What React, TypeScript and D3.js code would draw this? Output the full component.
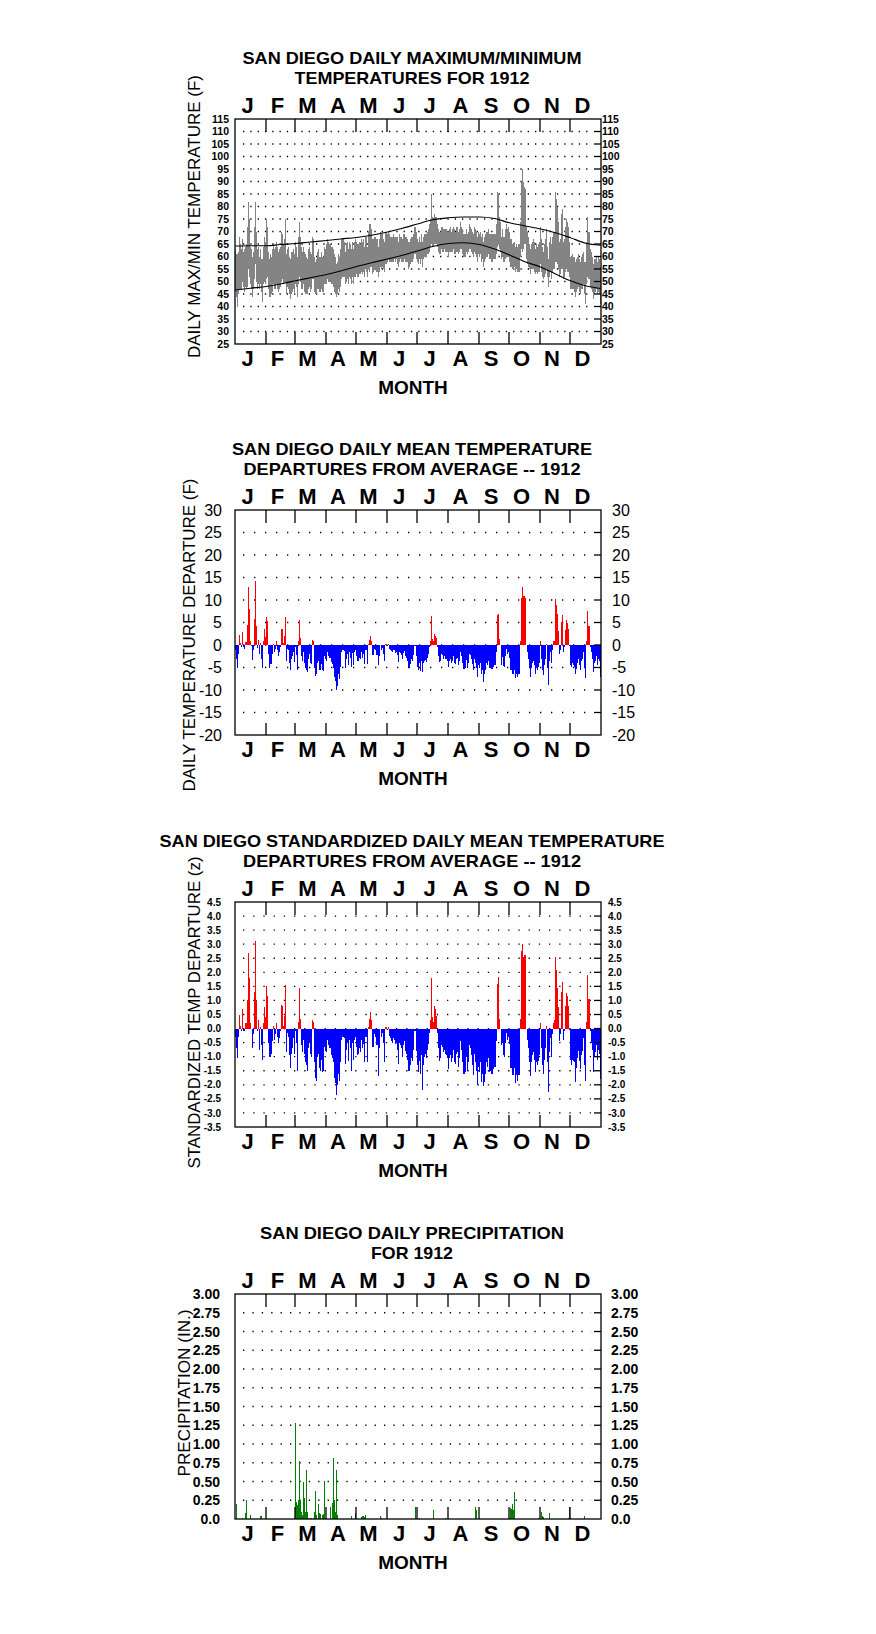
import React from "react";
import * as d3 from "d3";

const FONT = "'Liberation Sans', Arial, Helvetica, sans-serif";

const MONTH_LETTERS = ["J", "F", "M", "A", "M", "J", "J", "A", "S", "O", "N", "D"];
const MONTH_DAYS = [31, 29, 31, 30, 31, 30, 31, 31, 30, 31, 30, 31];

// ---- Chart 1: daily max / min (F) ----
const TMAX_JAN = [63,61,61,62,68,65,63,67,62,63,64,65,72,82,75,64,63,60,62,72,82,70,63,64,60,63,59,59,64,68,66];
const TMIN_JAN = [46,44,40,45,47,47,47,50,48,46,48,47,48,55,52,49,47,44,47,51,57,50,47,49,47,49,46,42,49,50,49];
const TMAX_FEB = [75,72,62,59,61,60,63,65,63,64,66,64,62,63,64,70,69,65,67,75,61,63,64,60,59,62,62,63,61];
const TMIN_FEB = [51,52,47,44,44,45,46,49,47,47,49,47,46,47,48,50,51,49,50,50,45,48,47,45,43,45,46,47,45];
const TMAX_MAR = [66,64,60,68,74,68,64,62,64,62,61,60,59,63,64,62,61,68,67,60,58,59,62,63,60,60,62,60,60,64,63];
const TMIN_MAR = [49,48,44,49,52,50,47,47,49,46,45,45,45,47,48,46,47,51,51,46,45,45,47,47,46,46,47,46,46,49,49];
const TMAX_APR = [65,67,66,65,65,64,64,63,61,60,57,58,61,60,63,67,67,67,66,62,65,66,63,66,65,63,66,63,66,67];
const TMIN_APR = [49,51,50,50,50,49,49,48,46,45,44,45,47,46,48,51,52,52,52,49,50,51,49,52,51,49,52,49,52,52];
const TMAX_MAY = [66,65,65,66,65,67,66,67,64,68,68,64,70,73,73,71,67,67,68,68,67,67,64,67,70,69,69,67,66,70,70];
const TMIN_MAY = [53,52,52,53,53,54,53,54,52,55,54,52,55,54,56,56,53,54,55,55,54,54,52,54,56,55,56,55,54,57,57];
const TMAX_JUN = [69,70,69,68,68,68,69,68,68,68,68,66,69,68,68,67,69,69,68,68,67,66,66,67,68,68,69,72,72,70];
const TMIN_JUN = [58,59,58,58,58,58,58,59,58,59,57,56,58,59,58,58,58,59,58,58,58,55,56,57,58,58,59,61,61,59];
const TMAX_JUL = [67,66,68,66,69,66,68,69,69,69,70,71,73,75,85,76,75,77,76,76,73,71,70,70,72,72,71,71,71,71,70];
const TMIN_JUL = [58,57,59,57,59,56,59,60,60,60,61,61,62,64,65,64,64,65,65,65,64,62,61,61,63,62,62,63,62,62,62];
const TMAX_AUG = [70,71,72,70,71,72,71,70,72,72,70,71,74,72,71,69,69,69,71,69,70,73,72,71,70,69,72,71,70,68,70];
const TMIN_AUG = [60,62,62,62,62,63,61,61,62,62,61,62,63,63,61,60,60,60,62,61,62,63,63,62,61,60,62,61,60,58,61];
const TMAX_SEP = [69,70,68,69,66,68,69,70,70,71,69,69,69,69,69,69,69,73,86,85,76,74,68,71,68,68,71,73,71,72];
const TMIN_SEP = [60,61,58,59,56,58,59,60,60,61,59,59,58,58,59,59,59,61,64,65,63,62,59,60,58,58,59,60,60,60];
const TMAX_OCT = [70,67,67,65,65,66,64,65,64,65,65,74,90,95,90,88,87,72,70,68,65,63,65,66,67,66,63,65,64,65,66];
const TMIN_OCT = [58,56,56,55,55,56,54,55,54,54,54,60,63,62,63,65,65,59,57,56,55,53,55,55,55,54,53,54,53,54,54];
const TMAX_NOV = [72,67,64,62,65,67,71,64,59,66,68,65,68,70,70,86,83,80,74,66,67,77,79,66,67,72,75,74,72,66];
const TMIN_NOV = [57,54,52,51,52,53,55,52,48,52,54,51,54,55,55,58,58,57,55,52,53,55,55,51,52,54,55,54,54,52];
const TMAX_DEC = [60,60,61,60,60,58,59,60,61,59,58,60,61,62,58,58,66,76,70,70,63,62,60,57,59,59,60,58,60,59,56];
const TMIN_DEC = [47,47,47,47,46,44,46,47,48,46,45,47,47,49,45,41,49,52,51,51,48,47,46,43,45,46,47,45,46,45,41];

const TMAX = [...TMAX_JAN, ...TMAX_FEB, ...TMAX_MAR, ...TMAX_APR, ...TMAX_MAY, ...TMAX_JUN,
  ...TMAX_JUL, ...TMAX_AUG, ...TMAX_SEP, ...TMAX_OCT, ...TMAX_NOV, ...TMAX_DEC];
const TMIN = [...TMIN_JAN, ...TMIN_FEB, ...TMIN_MAR, ...TMIN_APR, ...TMIN_MAY, ...TMIN_JUN,
  ...TMIN_JUL, ...TMIN_AUG, ...TMIN_SEP, ...TMIN_OCT, ...TMIN_NOV, ...TMIN_DEC];

// normal max / min curves (day of year, value)
const NORMAL_DAYS = [0,15,31,45,60,75,91,105,121,136,152,167,182,197,213,228,244,259,274,289,305,320,335,350,365];
const NORMAL_MAX = [64.2,64.3,64.3,64.8,65.2,65.8,66.4,67,67.6,68.5,69.8,71.3,73,74.7,75.5,75.8,75.8,75.2,73.5,72.3,71,69.5,67.5,65.3,64.5];
const NORMAL_MIN = [46.6,47.3,48,49,50.3,51.5,52.8,54.2,56,57.5,59,60.5,62.2,64,65.2,65.5,64.8,63,60.6,58,55.8,53,50.3,48.3,47.2];

// ---- Chart 2: daily mean departures (F) ----
const DEP_JAN = [-1,-3,-5,-2,2.2,0.5,-0.5,3,-0.5,-0.8,0.7,0.7,4.5,13,8,0.8,-0.3,-3.3,-1,5.8,14.2,4.2,-0.6,1.2,-2,0.4,-3,-5,1,3.5,1.8];
const DEP_FEB = [6.3,5.3,-2,-5,-4.2,-4.2,-2,0.3,-1.5,-0.8,0.8,-1,-2.5,-1.5,-0.5,3.5,3.5,0.5,2,6.2,-3.5,-0.8,-1.2,-4,-5.5,-3,-2.5,-1.5,-3.8];
const DEP_MAR = [-0.5,-2.2,-5.5,1,5.5,1.5,-2.5,-3.5,-1.5,-4,-5,-5.5,-6,-3,-2,-4,-4.2,1.2,1,-5,-6.8,-6.5,-4,-3.5,-5.5,-5.5,-4.2,-5.5,-5.8,-2.5,-3];
const DEP_APR = [-3.5,-1.5,-2.5,-2.8,-2.8,-3.8,-4.2,-5,-7,-8,-10,-9,-6.5,-7.5,-4.8,-1.5,-1.2,-1.2,-1.3,-5,-3,-2,-4.5,-1.5,-2.8,-4.8,-1.8,-4.5,-1.5,-1.2];
const DEP_MAY = [-2.5,-3.5,-3.5,-2.8,-3.2,-1.5,-2.8,-2,-4.2,-1,-1.2,-4.3,0.3,1.2,2,1,-2.2,-2.2,-0.8,-1,-2.2,-2.2,-4.5,-2.5,0,-1,-0.6,-2,-3.5,0.2,0.2];
const DEP_JUN = [-0.2,0.2,-0.8,-1,-1.3,-1.5,-1,-1.2,-1.7,-1.5,-2.3,-3.7,-1.5,-1.8,-2.2,-3,-1.8,-1.3,-2.5,-2.8,-3.5,-4.8,-5,-4.2,-3.2,-3.5,-2.3,-0.3,-0.3,-2.5];
const DEP_JUL = [-4.8,-5.5,-4,-5.8,-3.5,-6,-4,-3.5,-3.3,-3.8,-2.8,-2,-0.5,1,6.5,1.3,0.8,2.4,2,1.5,-0.5,-2.5,-3.8,-3.5,-2,-2.2,-3,-2.5,-3,-3.2,-3.5];
const DEP_AUG = [-4.8,-3.5,-3.2,-4,-3.5,-2.5,-4,-4.2,-3,-2.8,-4.5,-3.5,-1.5,-2.5,-4,-5.3,-5.3,-5.2,-3.3,-5,-4,-2,-2.3,-3.2,-4.3,-5.5,-3,-4,-5,-7,-4.5];
const DEP_SEP = [-5.2,-4,-6.5,-5.5,-8.2,-6.5,-5.5,-4,-4.5,-3.5,-5.2,-5,-5.3,-5.3,-4.8,-4.5,-4.5,-1.5,6.7,6.8,1.3,0,-4.5,-2.7,-4.7,-4.8,-2.5,-0.8,-2,-1.5];
const DEP_OCT = [-2.8,-5.5,-5.5,-6.5,-6.5,-5.5,-7.3,-6.5,-7,-6.5,-6.5,1,10.5,12.8,11,10.8,10.5,0,-1.5,-3,-5,-7,-5,-4,-3.5,-4.5,-6.5,-5,-5.5,-4.8,-4];
const DEP_NOV = [0.8,-3,-5.5,-6.7,-4.5,-3,0.3,-5,-8.8,-3.5,-1.5,-4,-1,0.8,0.8,10.2,9,7,3.2,-2,-1,5.2,6.7,-1.5,-0.5,3.3,5.5,4.8,3.6,-0.2];
const DEP_DEC = [-4.5,-4.8,-4,-4.5,-4.8,-6.5,-5.3,-4,-3,-4.5,-5.5,-3.5,-3,-1.5,-5,-7.3,1,7.5,4.3,4.3,-0.5,-1.5,-3,-6,-4,-3.5,-2.5,-4.5,-3,-3.5,-7.2];
const DEP = [...DEP_JAN, ...DEP_FEB, ...DEP_MAR, ...DEP_APR, ...DEP_MAY, ...DEP_JUN,
  ...DEP_JUL, ...DEP_AUG, ...DEP_SEP, ...DEP_OCT, ...DEP_NOV, ...DEP_DEC];

// ---- Chart 3: standardized departures (z) ----
const Z_JAN = [-0.3,-0.7,-1.05,-0.3,0.5,0.1,-0.1,0.7,-0.1,-0.1,0.2,0.2,1.0,2.7,1.8,0.2,0,-0.7,-0.2,1.3,3.1,1.0,-0.1,0.3,-0.75,0.05,-0.6,-1.1,0.2,0.75,0.4];
const Z_FEB = [1.5,1.15,-0.5,-1.0,-1.0,-0.9,-0.45,0.1,-0.4,-0.2,0.2,-0.3,-0.5,-0.35,-0.1,0.85,0.8,0.1,0.45,1.55,-0.85,-0.15,-0.3,-0.95,-1.4,-0.9,-0.7,-0.35,-0.9];
const Z_MAR = [-0.1,-0.5,-1.5,0.25,1.45,0.35,-0.6,-0.85,-0.4,-0.9,-1.2,-1.3,-1.5,-0.7,-0.5,-0.9,-1.0,0.3,0.25,-1.2,-1.75,-1.85,-1.0,-0.9,-1.4,-1.5,-1.1,-1.55,-1.5,-0.65,-0.8];
const Z_APR = [-0.85,-0.4,-0.6,-0.7,-0.7,-0.95,-1.05,-1.2,-1.75,-1.95,-2.35,-2.0,-1.6,-1.85,-1.2,-0.4,-0.3,-0.3,-0.35,-1.25,-0.75,-0.5,-1.15,-0.4,-0.7,-1.5,-0.5,-1.1,-0.4,-0.3];
const Z_MAY = [-0.65,-0.95,-0.9,-0.7,-0.85,-0.4,-0.7,-0.55,-1.2,-0.3,-0.3,-1.2,0.05,0.35,0.6,0.3,-0.65,-0.65,-0.2,-0.3,-0.6,-0.6,-1.7,-0.7,0,-0.3,-0.15,-0.5,-1.2,0.05,0.05];
const Z_JUN = [-0.05,0.05,-0.25,-0.35,-0.45,-0.5,-0.35,-0.4,-0.55,-0.5,-0.75,-1.25,-0.5,-0.6,-0.7,-1.0,-0.6,-0.45,-0.8,-0.9,-1.1,-1.5,-1.5,-1.3,-1.05,-1.15,-0.75,-0.1,-0.1,-0.8];
const Z_JUL = [-1.3,-1.55,-1.15,-1.6,-0.95,-2.2,-1.3,-1.0,-0.9,-1.05,-0.75,-0.55,-0.15,0.3,1.8,0.4,0.25,0.8,0.7,0.45,-0.15,-0.7,-1.15,-1.05,-0.6,-0.65,-0.85,-0.75,-0.9,-0.95,-1.05];
const Z_AUG = [-1.45,-1.05,-0.95,-1.2,-1.05,-0.75,-1.2,-1.25,-0.9,-0.85,-1.35,-1.05,-0.45,-0.75,-1.2,-1.6,-1.6,-1.55,-1.0,-1.5,-1.2,-0.6,-0.7,-0.95,-1.3,-1.65,-0.9,-1.2,-1.5,-2.0,-1.35];
const Z_SEP = [-1.55,-1.2,-1.9,-1.6,-2.05,-1.9,-1.6,-1.2,-1.35,-1.05,-1.55,-1.5,-1.6,-1.6,-1.45,-1.35,-1.35,-0.45,1.6,1.85,0.35,0,-0.6,-0.5,-0.95,-1.0,-0.5,-0.15,-0.4,-0.3];
const Z_OCT = [-0.55,-1.4,-1.4,-1.65,-1.65,-1.4,-1.95,-1.65,-1.85,-1.65,-1.65,0.35,2.75,3.0,2.55,2.6,2.6,0,-0.4,-0.7,-1.2,-1.7,-1.2,-0.95,-0.85,-1.1,-1.55,-1.2,-1.3,-1.15,-0.95];
const Z_NOV = [0.2,-0.7,-1.3,-1.6,-1.1,-0.7,0.1,-1.2,-2.25,-0.85,-0.35,-1.0,-0.2,0.2,0.3,2.55,2.1,1.45,0.75,-0.45,-0.2,1.3,1.65,-0.4,-0.1,0.8,1.25,1.15,0.8,-0.05];
const Z_DEC = [-1.1,-1.3,-1.1,-1.15,-1.2,-1.9,-1.4,-1.05,-0.8,-1.15,-1.45,-0.95,-0.8,-0.35,-1.3,-1.85,0.25,1.9,1.05,1.05,-0.1,-0.5,-0.75,-1.55,-1.0,-0.85,-0.6,-1.1,-0.75,-0.9,-1.8];
const ZDEP = [...Z_JAN, ...Z_FEB, ...Z_MAR, ...Z_APR, ...Z_MAY, ...Z_JUN,
  ...Z_JUL, ...Z_AUG, ...Z_SEP, ...Z_OCT, ...Z_NOV, ...Z_DEC];

// ---- Chart 4: daily precipitation (in.) — only days with rain ----
const PRECIP_DAY = [1,7,10,11,15,25,26,60,61,62,63,64,65,66,67,68,69,70,71,72,73,75,76,78,79,80,81,83,84,85,87,88,89,
  95,97,98,99,100,101,102,116,120,126,127,128,129,130,145,146,180,184,198,210,240,241,275,276,277,278,279,303,306,307,308,314,333,334,349];
const PRECIP_IN = [0.2,0.01,0.08,0.25,0.06,0.04,0.04,1.28,0.23,0.19,0.26,0.78,0.26,0.1,0.06,0.49,0.28,0.1,0.66,0.1,0.02,0.01,0.01,0.02,0.1,0.38,0.05,
  0.2,0.08,0.07,0.05,0.07,0.51,0.16,0.22,0.82,0.25,0.1,0.65,0.06,0.04,0.08,0.03,0.04,0.04,0.03,0.05,0.04,0.02,0.16,0.02,0.12,0.01,0.16,0.12,
  0.15,0.14,0.2,0.12,0.36,0.01,0.09,0.04,0.03,0.08,0.01,0.16,0.04];

// ---- tick labels ----
const TICKS_1 = d3.range(25, 116, 5);
const LABELS_1 = TICKS_1.map(String);
const TICKS_2 = d3.range(-20, 31, 5);
const LABELS_2 = TICKS_2.map(String);
const TICKS_3 = d3.range(-3.5, 4.51, 0.5);
const LABELS_3 = ["-3.5","-3.0","-2.5","-2.0","-1.5","-1.0","-0.5","0.0","0.5","1.0","1.5","2.0","2.5","3.0","3.5","4.0","4.5"];
const TICKS_4 = d3.range(0, 3.01, 0.25);
const LABELS_4 = ["0.0","0.25","0.50","0.75","1.00","1.25","1.50","1.75","2.00","2.25","2.50","2.75","3.00"];

// ---- layout ----
const LEFT = 235;
const RIGHT = 601;
const PH = 225;
const X = d3.scaleLinear().domain([0, 366]).range([LEFT, RIGHT]);
const MONTH_START = MONTH_DAYS.map((_, i) => d3.sum(MONTH_DAYS.slice(0, i)));

type PanelProps = {
  top: number;
  domain: [number, number];
  ticks: number[];
  labels: string[];
  labelSize: number;
  labelWeight: string;
  leftEnd: number;
  rightStart: number;
  dot: number;
  title: [string, string];
  titleLen: [number, number];
  yLabel: string;
  yLabelX: number;
  yLabelY: number;
  yLabelLen: number;
  render: (y: d3.ScaleLinear<number, number>) => React.ReactNode;
};

function Panel(p: PanelProps) {
  const T = p.top;
  const B = T + PH;
  const y = d3.scaleLinear().domain(p.domain).range([B, T]);
  const inner = p.ticks.slice(1, -1);
  const cx = 412;
  return (
    <g fontFamily={FONT}>
      <text x={cx} y={T - 55.5} textAnchor="middle" fontWeight="bold" fontSize={17}
        textLength={p.titleLen[0]} lengthAdjust="spacingAndGlyphs">{p.title[0]}</text>
      <text x={cx} y={T - 35.5} textAnchor="middle" fontWeight="bold" fontSize={17}
        textLength={p.titleLen[1]} lengthAdjust="spacingAndGlyphs">{p.title[1]}</text>
      {MONTH_LETTERS.map((m, i) => (
        <text key={"mt" + i} x={X(MONTH_START[i] + MONTH_DAYS[i] / 2) - 3} y={T - 6}
          textAnchor="middle" fontWeight="bold" fontSize={22}>{m}</text>
      ))}
      {inner.map((v, i) => (
        <line key={"g" + i} x1={243} x2={591} y1={y(v)} y2={y(v)} stroke="#000"
          strokeWidth={1.3} strokeDasharray={`1.3 ${p.dot - 1.3}`} />
      ))}
      {p.render(y)}
      <rect x={LEFT} y={T} width={RIGHT - LEFT} height={PH} fill="none" stroke="#000" strokeWidth={1.3} />
      {inner.map((v, i) => (
        <line key={"rt" + i} x1={RIGHT - 7} x2={RIGHT} y1={y(v)} y2={y(v)} stroke="#000" strokeWidth={1.3} />
      ))}
      {MONTH_START.slice(1).map((d, i) => (
        <g key={"mk" + i}>
          <line x1={X(d)} x2={X(d)} y1={T} y2={T + 13} stroke="#000" strokeWidth={1.3} />
          <line x1={X(d)} x2={X(d)} y1={B - 12} y2={B} stroke="#000" strokeWidth={1.3} />
        </g>
      ))}
      {p.ticks.map((v, i) => (
        <g key={"tl" + i} fontSize={p.labelSize} fontWeight={p.labelWeight}>
          <text x={p.leftEnd} y={y(v)} dy="0.36em" textAnchor="end">{p.labels[i]}</text>
          <text x={p.rightStart} y={y(v)} dy="0.36em" textAnchor="start">{p.labels[i]}</text>
        </g>
      ))}
      {MONTH_LETTERS.map((m, i) => (
        <text key={"mb" + i} x={X(MONTH_START[i] + MONTH_DAYS[i] / 2) - 3} y={T + 247}
          textAnchor="middle" fontWeight="bold" fontSize={22}>{m}</text>
      ))}
      <text x={413} y={T + 274.5} textAnchor="middle" fontWeight="bold" fontSize={19}>MONTH</text>
      <text transform={`translate(${p.yLabelX},${p.yLabelY}) rotate(-90)`} textAnchor="middle"
        fontSize={17} textLength={p.yLabelLen} lengthAdjust="spacingAndGlyphs">{p.yLabel}</text>
    </g>
  );
}

function DepartureBars({ y, values }: { y: d3.ScaleLinear<number, number>; values: number[] }) {
  const y0 = y(0);
  return (
    <g shapeRendering="crispEdges">
      {values.map((v, i) =>
        v === 0 ? null : (
          <rect key={i} x={X(i)} width={X(i + 1) - X(i)} y={Math.min(y(v), y0)}
            height={Math.abs(y(v) - y0)} fill={v > 0 ? "#ff0000" : "#0000ff"} />
        )
      )}
    </g>
  );
}

export default function App() {
  return (
    <svg width={876} height={1634} style={{ position: "absolute", left: 0, top: 0, display: "block", background: "#fff" }}>
      <rect x={0} y={0} width={876} height={1634} fill="#fff" />
      <Panel top={119} domain={[25, 115]} ticks={TICKS_1} labels={LABELS_1} labelSize={10.5} labelWeight="bold"
        leftEnd={229} rightStart={602} dot={7.3}
        title={["SAN DIEGO DAILY MAXIMUM/MINIMUM", "TEMPERATURES FOR 1912"]} titleLen={[339, 235]}
        yLabel="DAILY MAX/MIN TEMPERATURE (F)" yLabelX={200} yLabelY={216.5} yLabelLen={283}
        render={(y) => {
          const line = d3.line<number>().x((_, i) => X(NORMAL_DAYS[i] + 0.5)).curve(d3.curveMonotoneX);
          return (
            <g>
              <g shapeRendering="crispEdges">
                {TMAX.map((mx, i) => (
                  <rect key={i} x={X(i)} width={X(i + 1) - X(i)} y={y(mx)} height={y(TMIN[i]) - y(mx)} fill="#848484" />
                ))}
              </g>
              <path d={line.y((v) => y(v))(NORMAL_MAX) || ""} fill="none" stroke="#000" strokeWidth={1.2} />
              <path d={line.y((v) => y(v))(NORMAL_MIN) || ""} fill="none" stroke="#000" strokeWidth={1.2} />
            </g>
          );
        }} />
      <Panel top={510} domain={[-20, 30]} ticks={TICKS_2} labels={LABELS_2} labelSize={16} labelWeight="normal"
        leftEnd={222} rightStart={612} dot={11}
        title={["SAN DIEGO DAILY MEAN TEMPERATURE", "DEPARTURES FROM AVERAGE -- 1912"]} titleLen={[360, 337]}
        yLabel="DAILY TEMPERATURE DEPARTURE (F)" yLabelX={195} yLabelY={635} yLabelLen={313}
        render={(y) => <DepartureBars y={y} values={DEP} />} />
      <Panel top={902} domain={[-3.5, 4.5]} ticks={TICKS_3} labels={LABELS_3} labelSize={10} labelWeight="bold"
        leftEnd={221} rightStart={608} dot={10.2}
        title={["SAN DIEGO STANDARDIZED DAILY MEAN TEMPERATURE", "DEPARTURES FROM AVERAGE -- 1912"]} titleLen={[505, 338]}
        yLabel="STANDARDIZED TEMP DEPARTURE (z)" yLabelX={200} yLabelY={1012.5} yLabelLen={312}
        render={(y) => <DepartureBars y={y} values={ZDEP} />} />
      <Panel top={1294} domain={[0, 3]} ticks={TICKS_4} labels={LABELS_4} labelSize={14} labelWeight="bold"
        leftEnd={220} rightStart={611} dot={9.4}
        title={["SAN DIEGO DAILY PRECIPITATION", "FOR 1912"]} titleLen={[304, 82]}
        yLabel="PRECIPITATION (IN.)" yLabelX={190} yLabelY={1393} yLabelLen={167}
        render={(y) => (
          <g shapeRendering="crispEdges">
            {PRECIP_DAY.map((d, i) => (
              <rect key={i} x={X(d)} width={X(d + 1) - X(d)} y={y(PRECIP_IN[i])} height={y(0) - y(PRECIP_IN[i])} fill="#008000" />
            ))}
          </g>
        )} />
    </svg>
  );
}
